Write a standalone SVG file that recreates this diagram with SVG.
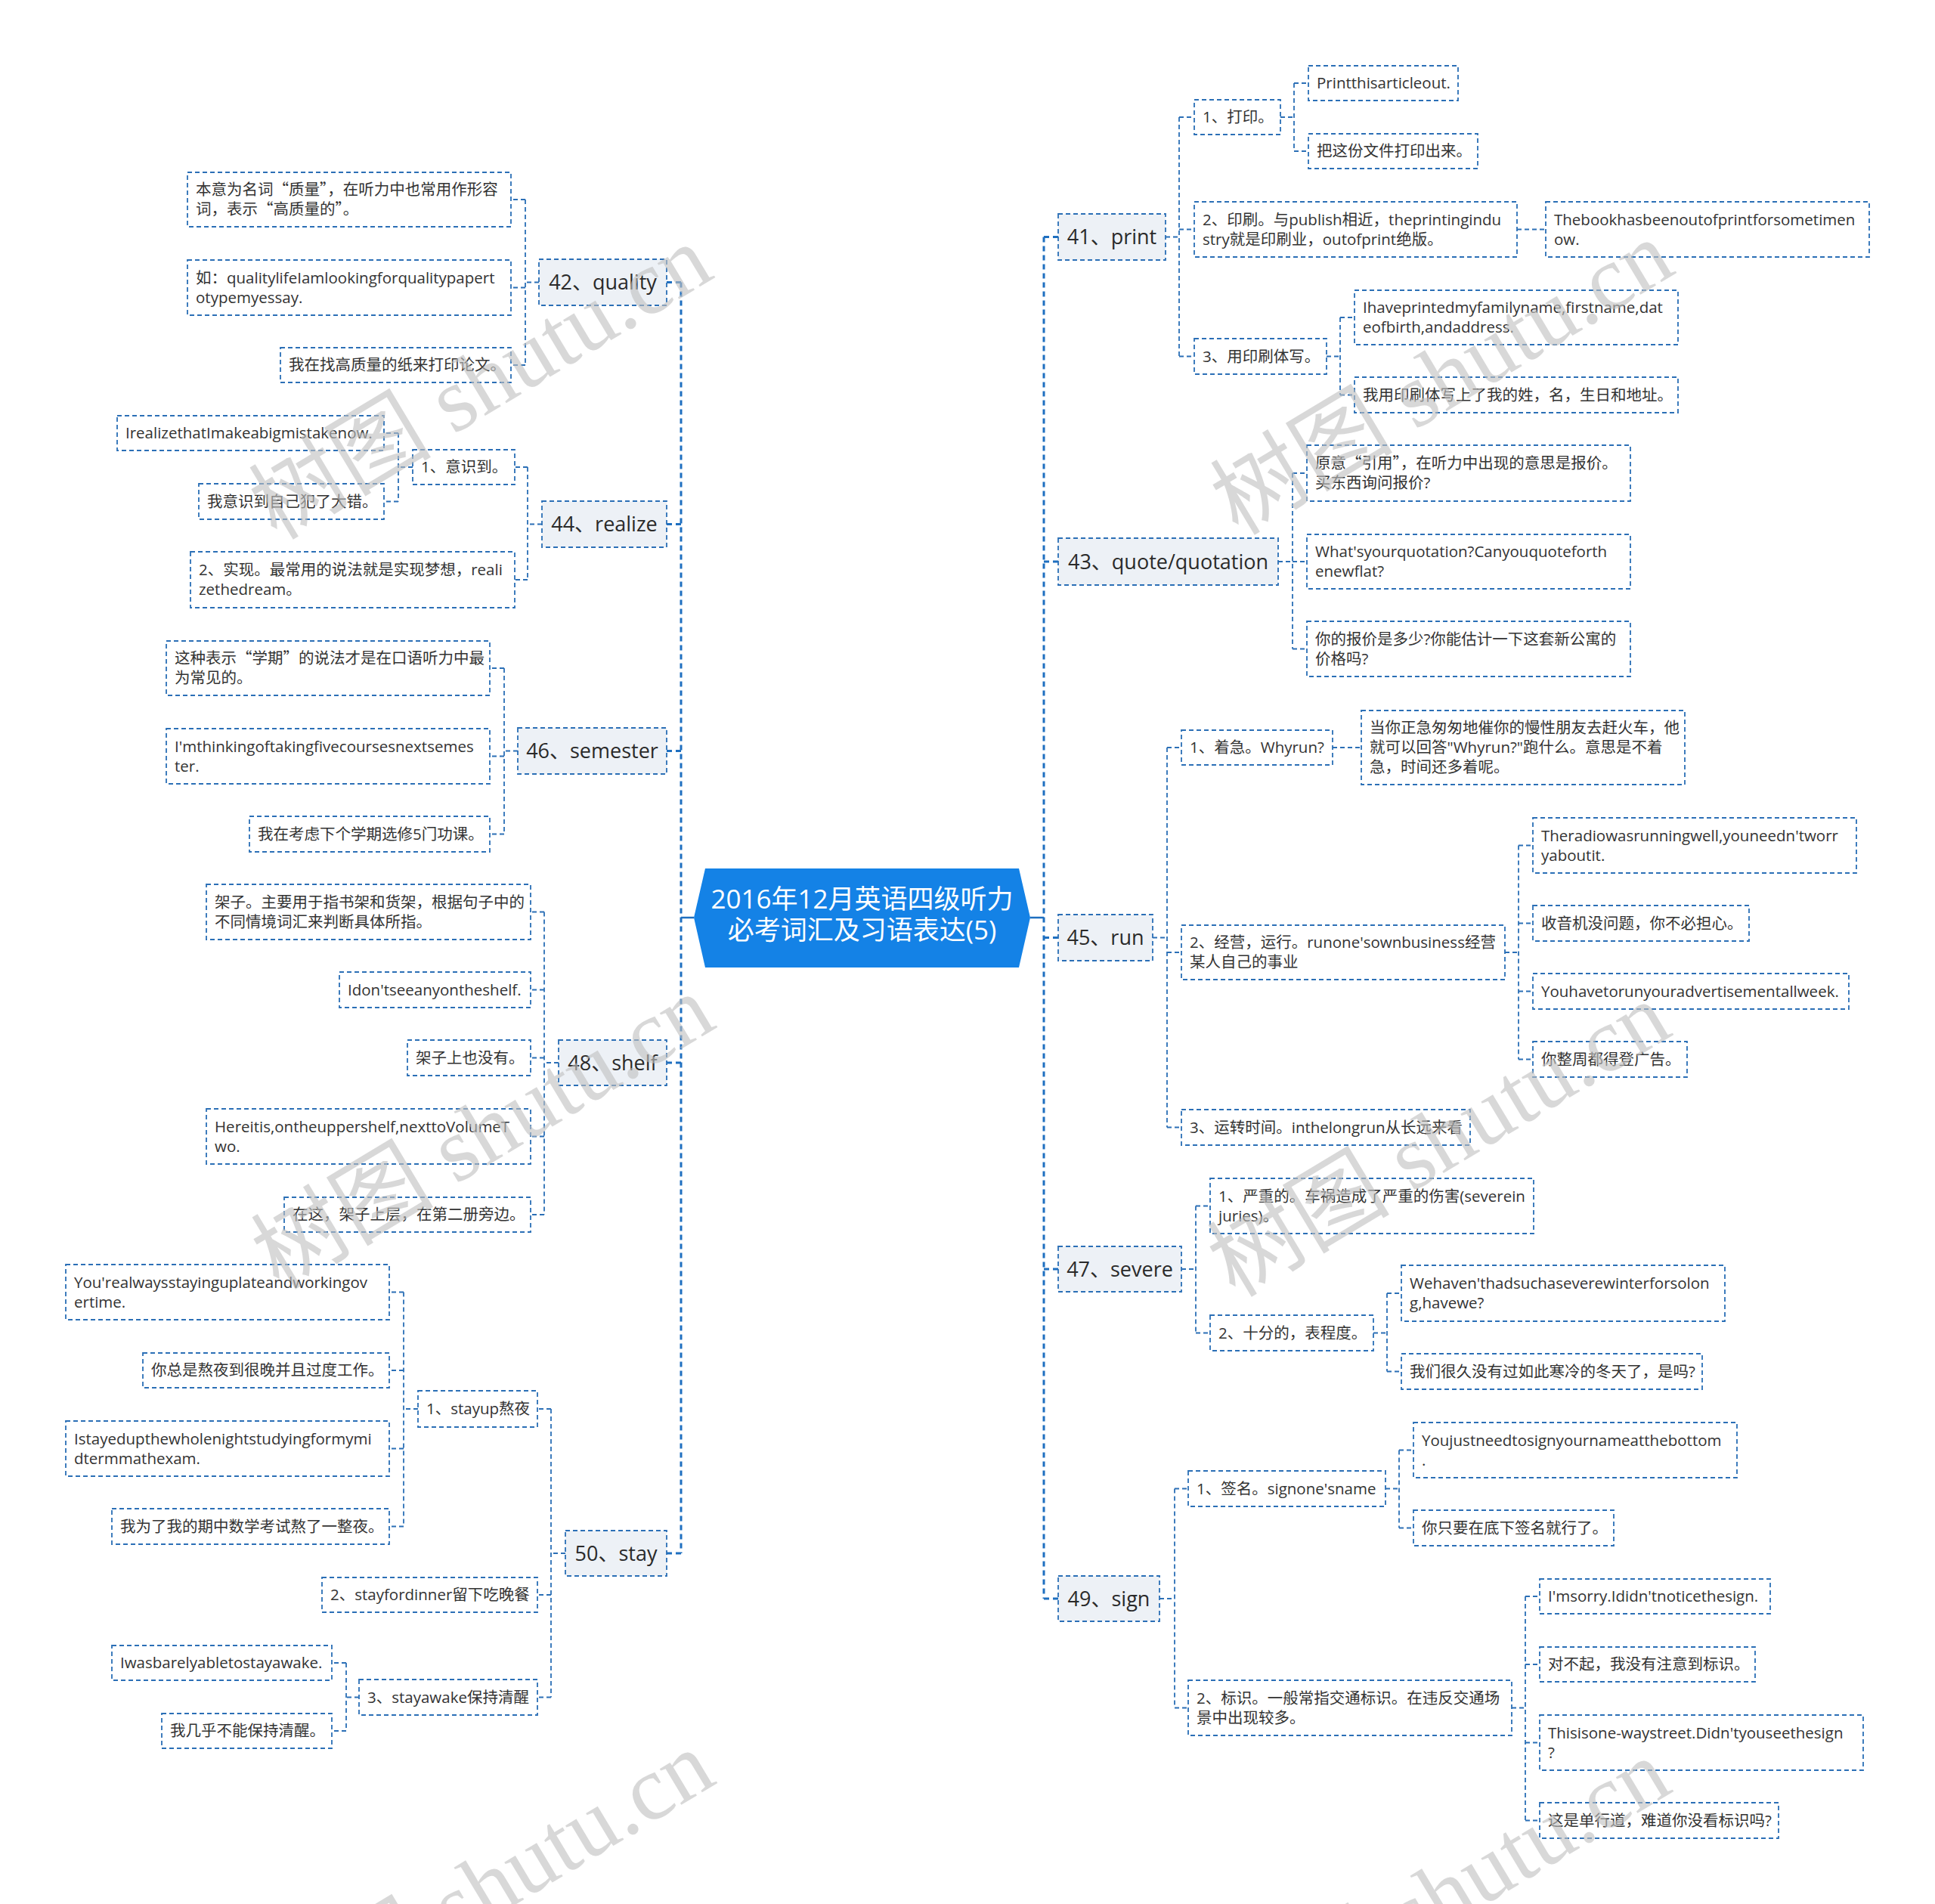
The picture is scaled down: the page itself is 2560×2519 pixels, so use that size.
<svg xmlns="http://www.w3.org/2000/svg" width="2560" height="2519" viewBox="0 0 2560 2519">
<style>
.n{fill:#fff;stroke:#2b6fb6;stroke-width:1.8;stroke-dasharray:6 4}
.m{fill:#edf1f6;stroke:#2b6fb6;stroke-width:1.8;stroke-dasharray:6 4}
.t{font-family:'Open Sans','Noto Sans CJK SC',sans-serif;font-size:20.5px;fill:#333}
.tm{font-family:'Open Sans','Noto Sans CJK SC',sans-serif;font-size:27px;fill:#2a2a2a;text-anchor:middle}
.cj{font-family:'Noto Sans CJK SC',sans-serif}
.c{fill:none;stroke:#2b6fb6;stroke-width:1.8;stroke-dasharray:6 4}
.tr{fill:none;stroke:#1e6fc0;stroke-width:3;stroke-dasharray:7 5}
.s{fill:none;stroke:#1e6fc0;stroke-width:2.5}
.wm{font-family:'Liberation Serif','Noto Sans CJK SC',serif;font-size:121px;fill:#c0c0c0;fill-opacity:.62;text-anchor:middle}
</style>
<rect width="2560" height="2519" fill="#fff"/>
<g id="connectors">
<path class="s" d="M901 1214H918 M1363 1214H1381"/>
<path class="tr" d="M901 373.5V2055 M901 373.5H882 M901 693.5H882 M901 993.5H882 M901 1406H882 M901 2055H882"/>
<path class="tr" d="M1381 313.5V2115 M1381 313.5H1400 M1381 743H1400 M1381 1240.5H1400 M1381 1679H1400 M1381 2115H1400"/>
<path class="c" d="M713 373.5H695 M695 264V483 M695 264H676 M695 380.5H676 M695 483H676"/>
<path class="c" d="M546 618H527 M527 573V663.5 M527 573H508 M527 663.5H508"/>
<path class="c" d="M717 693.5H698 M698 618V767 M698 618H681 M698 767H681"/>
<path class="c" d="M685 993.5H667 M667 884V1103.5 M667 884H648 M667 1000.5H648 M667 1103.5H648"/>
<path class="c" d="M739 1406H720 M720 1206.5V1607 M720 1206.5H702 M720 1309.5H702 M720 1399.5H702 M720 1503.5H702 M720 1607H702"/>
<path class="c" d="M553 1864H534 M534 1709.5V2019.5 M534 1709.5H515 M534 1813H515 M534 1916.5H515 M534 2019.5H515"/>
<path class="c" d="M475 2245.5H458 M458 2200V2290 M458 2200H439 M458 2290H439"/>
<path class="c" d="M748 2055H729 M729 1864V2245.5 M729 1864H711 M729 2110H711 M729 2245.5H711"/>
<path class="c" d="M1542 313.5H1560 M1560 155V471.5 M1560 155H1580 M1560 303.5H1580 M1560 471.5H1580"/>
<path class="c" d="M1694 155H1712 M1712 110V200 M1712 110H1731 M1712 200H1731"/>
<path class="c" d="M2007 303.5H2045"/>
<path class="c" d="M1755 471.5H1773 M1773 420V522.5 M1773 420H1792 M1773 522.5H1792"/>
<path class="c" d="M1691 743H1710 M1710 626V858.5 M1710 626H1729 M1710 743H1729 M1710 858.5H1729"/>
<path class="c" d="M1525 1240.5H1544 M1544 989V1491.5 M1544 989H1563 M1544 1260H1563 M1544 1491.5H1563"/>
<path class="c" d="M1763 989H1801"/>
<path class="c" d="M1991 1260H2009 M2009 1118.5V1401.5 M2009 1118.5H2028 M2009 1221.5H2028 M2009 1311.5H2028 M2009 1401.5H2028"/>
<path class="c" d="M1563 1679H1582 M1582 1595.5V1763.5 M1582 1595.5H1601 M1582 1763.5H1601"/>
<path class="c" d="M1817 1763.5H1835 M1835 1711V1814.5 M1835 1711H1854 M1835 1814.5H1854"/>
<path class="c" d="M1534 2115H1554 M1554 1969.5V2259.5 M1554 1969.5H1572 M1554 2259.5H1572"/>
<path class="c" d="M1833 1969.5H1851 M1851 1918.5V2021.5 M1851 1918.5H1870 M1851 2021.5H1870"/>
<path class="c" d="M2000 2259.5H2018 M2018 2112V2408.5 M2018 2112H2037 M2018 2202H2037 M2018 2305.5H2037 M2018 2408.5H2037"/>
</g>
<g id="root">
<polygon points="933,1149 1348,1149 1363,1214 1348,1280 933,1280 918,1214" fill="#1482e6"/>
<text x="1140.5" y="1202" font-family="'Open Sans','Noto Sans CJK SC',sans-serif" font-size="35" fill="#fff" text-anchor="middle">2016年12月英语四级听力</text>
<text x="1140.5" y="1243" font-family="'Open Sans','Noto Sans CJK SC',sans-serif" font-size="35" fill="#fff" text-anchor="middle">必考词汇及习语表达(5)</text>
</g>
<g id="n42"><rect class="m" x="713" y="343" width="169" height="61"/><text class="tm" x="797.5" y="383">42、quality</text></g>
<g id="n42a"><rect class="n" x="248" y="228" width="428" height="72"/><text class="t" x="259" y="258">本意为名词<tspan class="cj">“</tspan>质量<tspan class="cj">”</tspan>，在听力中也常用作形容</text><text class="t" x="259" y="284">词，表示<tspan class="cj">“</tspan>高质量的<tspan class="cj">”</tspan>。</text></g>
<g id="n42b"><rect class="n" x="248" y="344" width="428" height="73"/><text class="t" x="259" y="374.5">如：qualitylifeIamlookingforqualitypapert</text><text class="t" x="259" y="400.5">otypemyessay.</text></g>
<g id="n42c"><rect class="n" x="371" y="460" width="305" height="46"/><text class="t" x="382" y="490">我在找高质量的纸来打印论文。</text></g>
<g id="n44"><rect class="m" x="717" y="663" width="165" height="61"/><text class="tm" x="799.5" y="703">44、realize</text></g>
<g id="n44a"><rect class="n" x="546" y="595" width="135" height="46"/><text class="t" x="557" y="625">1、意识到。</text></g>
<g id="n44a1"><rect class="n" x="155" y="550" width="353" height="46"/><text class="t" x="166" y="580">IrealizethatImakeabigmistakenow.</text></g>
<g id="n44a2"><rect class="n" x="263" y="640" width="245" height="47"/><text class="t" x="274" y="670.5">我意识到自己犯了大错。</text></g>
<g id="n44b"><rect class="n" x="252" y="730" width="429" height="74"/><text class="t" x="263" y="761">2、实现。最常用的说法就是实现梦想，reali</text><text class="t" x="263" y="787">zethedream。</text></g>
<g id="n46"><rect class="m" x="685" y="963" width="197" height="61"/><text class="tm" x="783.5" y="1003">46、semester</text></g>
<g id="n46a"><rect class="n" x="220" y="848" width="428" height="72"/><text class="t" x="231" y="878">这种表示<tspan class="cj">“</tspan>学期<tspan class="cj">”</tspan>的说法才是在口语听力中最</text><text class="t" x="231" y="904">为常见的。</text></g>
<g id="n46b"><rect class="n" x="220" y="964" width="428" height="73"/><text class="t" x="231" y="994.5">I'mthinkingoftakingfivecoursesnextsemes</text><text class="t" x="231" y="1020.5">ter.</text></g>
<g id="n46c"><rect class="n" x="330" y="1080" width="318" height="47"/><text class="t" x="341" y="1110.5">我在考虑下个学期选修5门功课。</text></g>
<g id="n48"><rect class="m" x="739" y="1376" width="143" height="60"/><text class="tm" x="810.5" y="1415.5">48、shelf</text></g>
<g id="n48a"><rect class="n" x="273" y="1170" width="429" height="73"/><text class="t" x="284" y="1200.5">架子。主要用于指书架和货架，根据句子中的</text><text class="t" x="284" y="1226.5">不同情境词汇来判断具体所指。</text></g>
<g id="n48b"><rect class="n" x="449" y="1286" width="253" height="47"/><text class="t" x="460" y="1316.5">Idon'tseeanyontheshelf.</text></g>
<g id="n48c"><rect class="n" x="539" y="1376" width="163" height="47"/><text class="t" x="550" y="1406.5">架子上也没有。</text></g>
<g id="n48d"><rect class="n" x="273" y="1467" width="429" height="73"/><text class="t" x="284" y="1497.5">Hereitis,ontheuppershelf,nexttoVolumeT</text><text class="t" x="284" y="1523.5">wo.</text></g>
<g id="n48e"><rect class="n" x="376" y="1584" width="326" height="46"/><text class="t" x="387" y="1614">在这，架子上层，在第二册旁边。</text></g>
<g id="n50"><rect class="m" x="748" y="2025" width="134" height="60"/><text class="tm" x="815" y="2064.5">50、stay</text></g>
<g id="n50a"><rect class="n" x="553" y="1840" width="158" height="48"/><text class="t" x="564" y="1871">1、stayup熬夜</text></g>
<g id="n50a1"><rect class="n" x="87" y="1673" width="428" height="73"/><text class="t" x="98" y="1703.5">You'realwaysstayinguplateandworkingov</text><text class="t" x="98" y="1729.5">ertime.</text></g>
<g id="n50a2"><rect class="n" x="189" y="1790" width="326" height="46"/><text class="t" x="200" y="1820">你总是熬夜到很晚并且过度工作。</text></g>
<g id="n50a3"><rect class="n" x="87" y="1880" width="428" height="73"/><text class="t" x="98" y="1910.5">Istayedupthewholenightstudyingformymi</text><text class="t" x="98" y="1936.5">dtermmathexam.</text></g>
<g id="n50a4"><rect class="n" x="148" y="1996" width="367" height="47"/><text class="t" x="159" y="2026.5">我为了我的期中数学考试熬了一整夜。</text></g>
<g id="n50b"><rect class="n" x="426" y="2087" width="285" height="46"/><text class="t" x="437" y="2117">2、stayfordinner留下吃晚餐</text></g>
<g id="n50c"><rect class="n" x="475" y="2222" width="236" height="47"/><text class="t" x="486" y="2252.5">3、stayawake保持清醒</text></g>
<g id="n50c1"><rect class="n" x="148" y="2177" width="291" height="46"/><text class="t" x="159" y="2207">Iwasbarelyabletostayawake.</text></g>
<g id="n50c2"><rect class="n" x="214" y="2267" width="225" height="46"/><text class="t" x="225" y="2297">我几乎不能保持清醒。</text></g>
<g id="n41"><rect class="m" x="1400" y="283" width="142" height="61"/><text class="tm" x="1471" y="323">41、print</text></g>
<g id="n41a"><rect class="n" x="1580" y="132" width="114" height="46"/><text class="t" x="1591" y="162">1、打印。</text></g>
<g id="n41a1"><rect class="n" x="1731" y="87" width="198" height="46"/><text class="t" x="1742" y="117">Printthisarticleout.</text></g>
<g id="n41a2"><rect class="n" x="1731" y="177" width="224" height="46"/><text class="t" x="1742" y="207">把这份文件打印出来。</text></g>
<g id="n41b"><rect class="n" x="1580" y="267" width="427" height="73"/><text class="t" x="1591" y="297.5">2、印刷。与publish相近，theprintingindu</text><text class="t" x="1591" y="323.5">stry就是印刷业，outofprint绝版。</text></g>
<g id="n41b1"><rect class="n" x="2045" y="267" width="428" height="73"/><text class="t" x="2056" y="297.5">Thebookhasbeenoutofprintforsometimen</text><text class="t" x="2056" y="323.5">ow.</text></g>
<g id="n41c"><rect class="n" x="1580" y="448" width="175" height="47"/><text class="t" x="1591" y="478.5">3、用印刷体写。</text></g>
<g id="n41c1"><rect class="n" x="1792" y="384" width="428" height="72"/><text class="t" x="1803" y="414">Ihaveprintedmyfamilyname,firstname,dat</text><text class="t" x="1803" y="440">eofbirth,andaddress.</text></g>
<g id="n41c2"><rect class="n" x="1792" y="499" width="428" height="47"/><text class="t" x="1803" y="529.5">我用印刷体写上了我的姓，名，生日和地址。</text></g>
<g id="n43"><rect class="m" x="1400" y="712" width="291" height="62"/><text class="tm" x="1545.5" y="752.5">43、quote/quotation</text></g>
<g id="n43a"><rect class="n" x="1729" y="589" width="428" height="74"/><text class="t" x="1740" y="620">原意<tspan class="cj">“</tspan>引用<tspan class="cj">”</tspan>，在听力中出现的意思是报价。</text><text class="t" x="1740" y="646">买东西询问报价?</text></g>
<g id="n43b"><rect class="n" x="1729" y="707" width="428" height="72"/><text class="t" x="1740" y="737">What'syourquotation?Canyouquoteforth</text><text class="t" x="1740" y="763">enewflat?</text></g>
<g id="n43c"><rect class="n" x="1729" y="822" width="428" height="73"/><text class="t" x="1740" y="852.5">你的报价是多少?你能估计一下这套新公寓的</text><text class="t" x="1740" y="878.5">价格吗?</text></g>
<g id="n45"><rect class="m" x="1400" y="1210" width="125" height="61"/><text class="tm" x="1462.5" y="1250">45、run</text></g>
<g id="n45a"><rect class="n" x="1563" y="966" width="200" height="46"/><text class="t" x="1574" y="996">1、着急。Whyrun?</text></g>
<g id="n45a1"><rect class="n" x="1801" y="940" width="428" height="98"/><text class="t" x="1812" y="970">当你正急匆匆地催你的慢性朋友去赶火车，他</text><text class="t" x="1812" y="996">就可以回答"Whyrun?"跑什么。意思是不着</text><text class="t" x="1812" y="1022">急，时间还多着呢。</text></g>
<g id="n45b"><rect class="n" x="1563" y="1224" width="428" height="72"/><text class="t" x="1574" y="1254">2、经营，运行。runone'sownbusiness经营</text><text class="t" x="1574" y="1280">某人自己的事业</text></g>
<g id="n45b1"><rect class="n" x="2028" y="1082" width="428" height="73"/><text class="t" x="2039" y="1112.5">Theradiowasrunningwell,youneedn'tworr</text><text class="t" x="2039" y="1138.5">yaboutit.</text></g>
<g id="n45b2"><rect class="n" x="2028" y="1198" width="286" height="47"/><text class="t" x="2039" y="1228.5">收音机没问题，你不必担心。</text></g>
<g id="n45b3"><rect class="n" x="2028" y="1288" width="418" height="47"/><text class="t" x="2039" y="1318.5">Youhavetorunyouradvertisementallweek.</text></g>
<g id="n45b4"><rect class="n" x="2028" y="1378" width="204" height="47"/><text class="t" x="2039" y="1408.5">你整周都得登广告。</text></g>
<g id="n45c"><rect class="n" x="1563" y="1468" width="382" height="47"/><text class="t" x="1574" y="1498.5">3、运转时间。inthelongrun从长远来看</text></g>
<g id="n47"><rect class="m" x="1400" y="1649" width="163" height="60"/><text class="tm" x="1481.5" y="1688.5">47、severe</text></g>
<g id="n47a"><rect class="n" x="1601" y="1559" width="428" height="73"/><text class="t" x="1612" y="1589.5">1、严重的。车祸造成了严重的伤害(severein</text><text class="t" x="1612" y="1615.5">juries)。</text></g>
<g id="n47b"><rect class="n" x="1601" y="1740" width="216" height="47"/><text class="t" x="1612" y="1770.5">2、十分的，表程度。</text></g>
<g id="n47b1"><rect class="n" x="1854" y="1674" width="428" height="74"/><text class="t" x="1865" y="1705">Wehaven'thadsuchaseverewinterforsolon</text><text class="t" x="1865" y="1731">g,havewe?</text></g>
<g id="n47b2"><rect class="n" x="1854" y="1791" width="398" height="47"/><text class="t" x="1865" y="1821.5">我们很久没有过如此寒冷的冬天了，是吗?</text></g>
<g id="n49"><rect class="m" x="1400" y="2085" width="134" height="60"/><text class="tm" x="1467" y="2124.5">49、sign</text></g>
<g id="n49a"><rect class="n" x="1572" y="1946" width="261" height="47"/><text class="t" x="1583" y="1976.5">1、签名。signone'sname</text></g>
<g id="n49a1"><rect class="n" x="1870" y="1882" width="428" height="73"/><text class="t" x="1881" y="1912.5">Youjustneedtosignyournameatthebottom</text><text class="t" x="1881" y="1938.5">.</text></g>
<g id="n49a2"><rect class="n" x="1870" y="1998" width="265" height="47"/><text class="t" x="1881" y="2028.5">你只要在底下签名就行了。</text></g>
<g id="n49b"><rect class="n" x="1572" y="2223" width="428" height="73"/><text class="t" x="1583" y="2253.5">2、标识。一般常指交通标识。在违反交通场</text><text class="t" x="1583" y="2279.5">景中出现较多。</text></g>
<g id="n49b1"><rect class="n" x="2037" y="2089" width="305" height="46"/><text class="t" x="2048" y="2119">I'msorry.Ididn'tnoticethesign.</text></g>
<g id="n49b2"><rect class="n" x="2037" y="2179" width="285" height="46"/><text class="t" x="2048" y="2209">对不起，我没有注意到标识。</text></g>
<g id="n49b3"><rect class="n" x="2037" y="2269" width="428" height="73"/><text class="t" x="2048" y="2299.5">Thisisone-waystreet.Didn'tyouseethesign</text><text class="t" x="2048" y="2325.5">?</text></g>
<g id="n49b4"><rect class="n" x="2037" y="2385" width="316" height="47"/><text class="t" x="2048" y="2415.5">这是单行道，难道你没看标识吗?</text></g>
<g id="watermark">
<text class="wm" x="657" y="541" transform="rotate(-31 657 541)">树图 shutu.cn</text>
<text class="wm" x="1929" y="535" transform="rotate(-31 1929 535)">树图 shutu.cn</text>
<text class="wm" x="660" y="1533" transform="rotate(-31 660 1533)">树图 shutu.cn</text>
<text class="wm" x="1925" y="1543" transform="rotate(-31 1925 1543)">树图 shutu.cn</text>
<text class="wm" x="660" y="2533" transform="rotate(-31 660 2533)">树图 shutu.cn</text>
<text class="wm" x="1925" y="2544" transform="rotate(-31 1925 2544)">树图 shutu.cn</text>
</g>
</svg>
